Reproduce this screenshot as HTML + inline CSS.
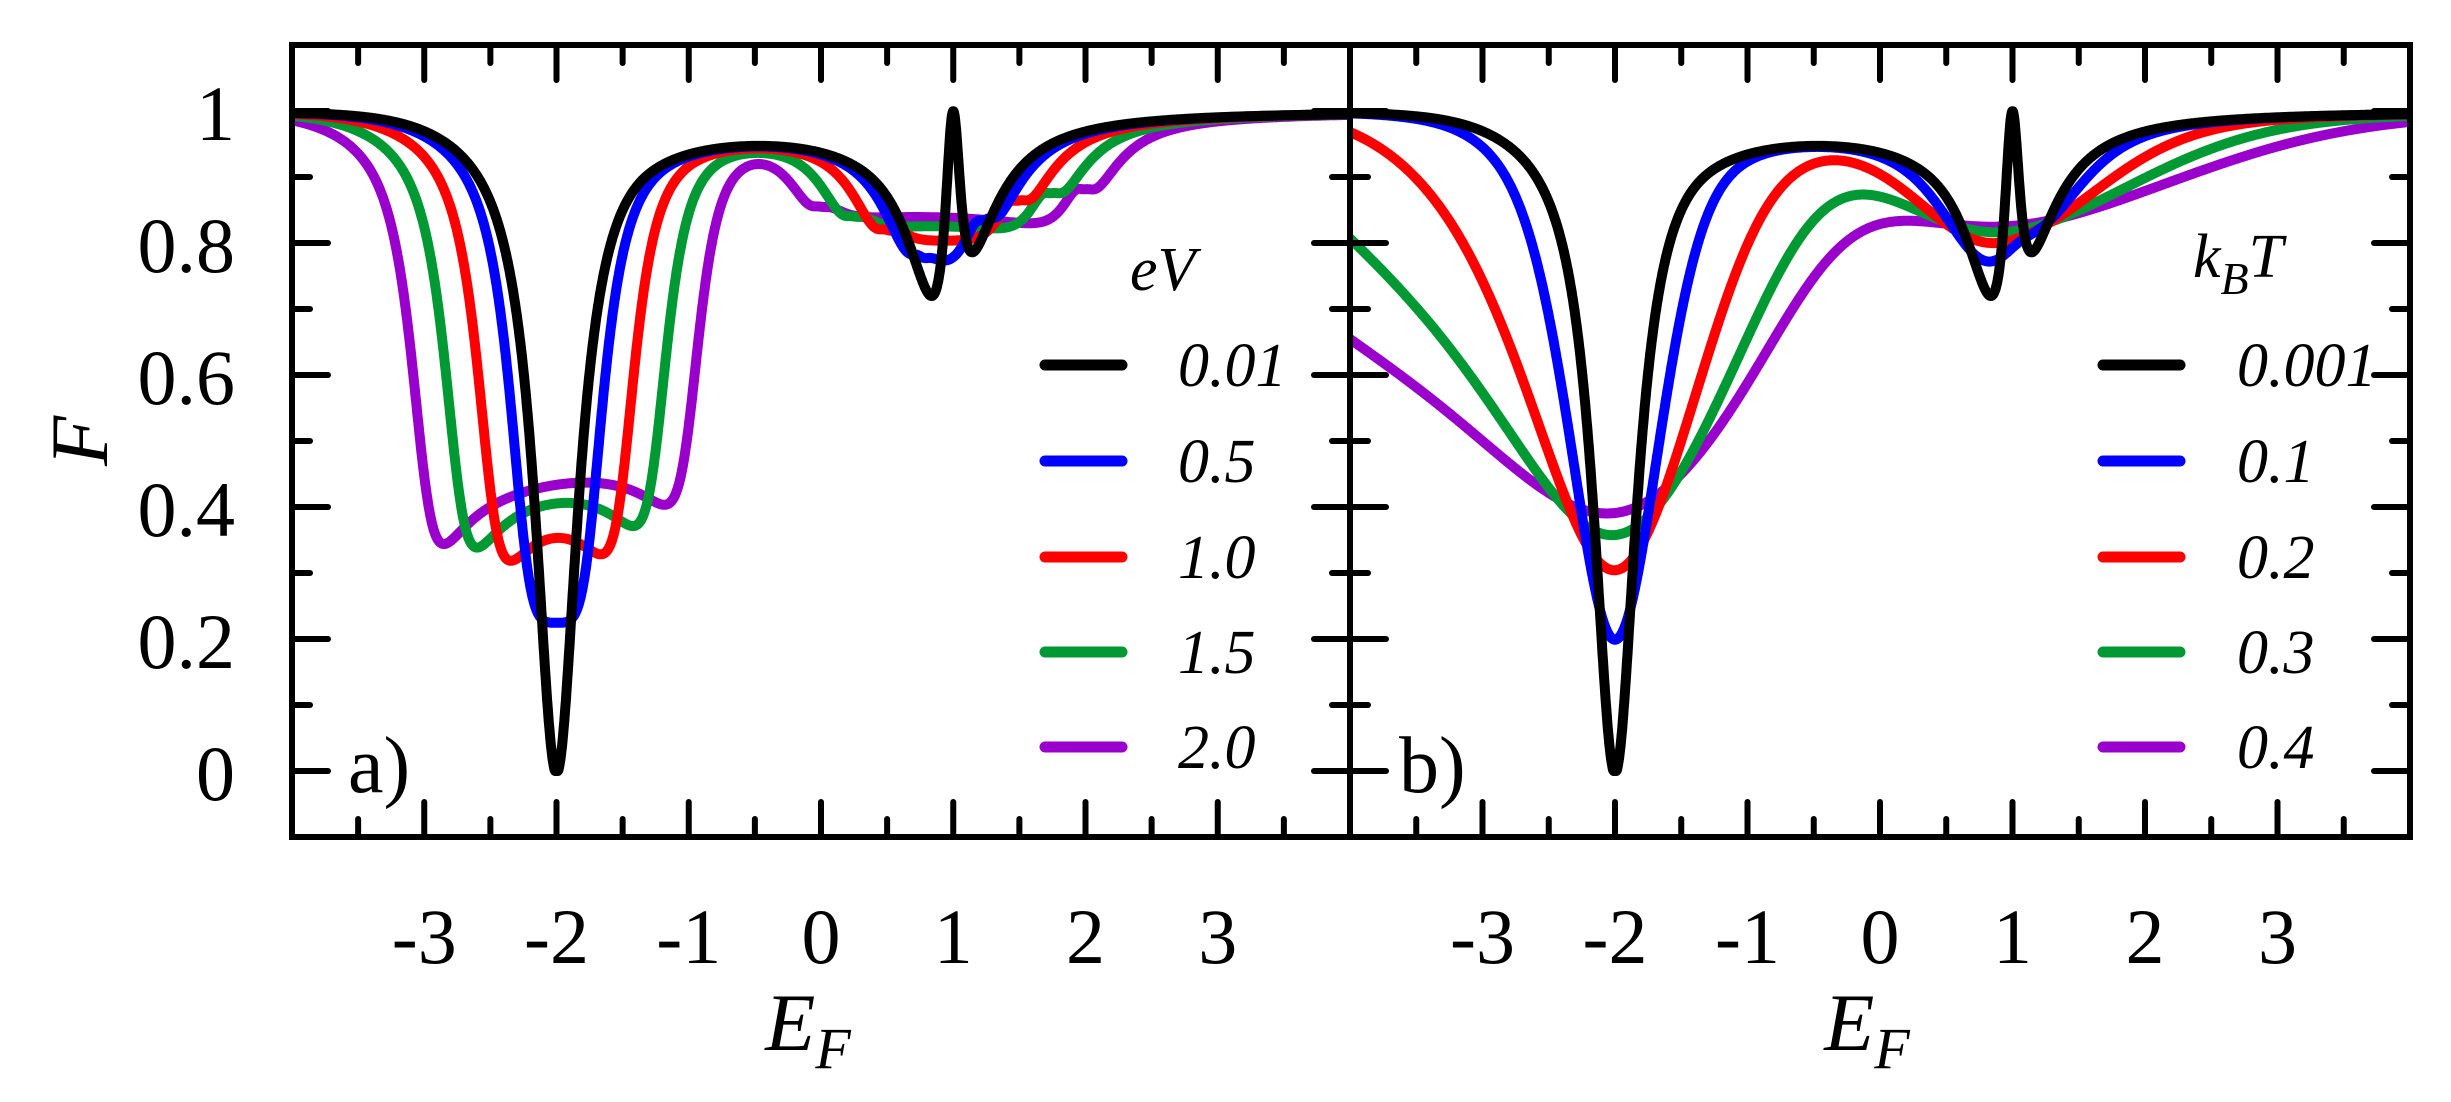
<!DOCTYPE html>
<html><head><meta charset="utf-8"><style>
html,body{margin:0;padding:0;background:#fff;}
svg{display:block;}
text{font-family:"Liberation Serif",serif;fill:#000;}
.tl{font-size:78px;}
.lg{font-size:62px;font-style:italic;}
</style></head><body>
<svg id="s" width="2451" height="1102" viewBox="0 0 2451 1102" xmlns="http://www.w3.org/2000/svg">
<defs>
<clipPath id="ca"><rect x="292" y="45" width="1058" height="792"/></clipPath>
<clipPath id="cb"><rect x="1350" y="45" width="1060" height="792"/></clipPath>
</defs>
<g id="curves"></g>
<g id="axes" stroke="#000" stroke-width="6" fill="none" stroke-linecap="round"></g>
<g class="tl" text-anchor="end">
<text x="235" y="800">0</text>
<text x="235" y="668">0.2</text>
<text x="235" y="536">0.4</text>
<text x="235" y="404">0.6</text>
<text x="235" y="272">0.8</text>
<text x="235" y="140">1</text>
</g>
<g class="tl" text-anchor="middle" id="xl"></g>
<text x="80" y="441" font-size="82" font-style="italic" text-anchor="middle" transform="rotate(-90 80 441)" dy="27">F</text>
<text x="808" y="1050" font-size="82" font-style="italic" text-anchor="middle">E<tspan font-size="58" dy="18">F</tspan></text>
<text x="1867" y="1050" font-size="82" font-style="italic" text-anchor="middle">E<tspan font-size="58" dy="18">F</tspan></text>
<text x="348" y="792" font-size="80">a)</text>
<text x="1399" y="792" font-size="80">b)</text>
<text x="1130" y="290" class="lg">eV</text>
<text x="2193" y="277" class="lg">k<tspan font-size="46" dy="17">B</tspan><tspan dy="-17">T</tspan></text>
<g class="lg">
<text x="1178" y="386">0.01</text>
<text x="1178" y="482">0.5</text>
<text x="1178" y="578">1.0</text>
<text x="1178" y="673">1.5</text>
<text x="1178" y="768">2.0</text>
<text x="2237" y="386">0.001</text>
<text x="2237" y="482">0.1</text>
<text x="2237" y="578">0.2</text>
<text x="2237" y="673">0.3</text>
<text x="2237" y="768">0.4</text>
</g>
<g stroke-width="11" stroke-linecap="round">
<line x1="1045" y1="365" x2="1122" y2="365" stroke="#000"/>
<line x1="1045" y1="461" x2="1122" y2="461" stroke="#0000ff"/>
<line x1="1045" y1="557" x2="1122" y2="557" stroke="#ff0000"/>
<line x1="1045" y1="652" x2="1122" y2="652" stroke="#009933"/>
<line x1="1045" y1="747" x2="1122" y2="747" stroke="#9900cc"/>
<line x1="2103" y1="365" x2="2180" y2="365" stroke="#000"/>
<line x1="2103" y1="461" x2="2180" y2="461" stroke="#0000ff"/>
<line x1="2103" y1="557" x2="2180" y2="557" stroke="#ff0000"/>
<line x1="2103" y1="652" x2="2180" y2="652" stroke="#009933"/>
<line x1="2103" y1="747" x2="2180" y2="747" stroke="#9900cc"/>
</g>
</svg>
<script>
(function(){
var NS="http://www.w3.org/2000/svg";
function el(t,a,p){var e=document.createElementNS(NS,t);for(var k in a)e.setAttribute(k,a[k]);p.appendChild(e);return e;}
var Y=function(F){return 771-660*F;};
var P=[[292,1350],[1350,2410]];
function X(p,e){return P[p][0]+(e+4)/8*(P[p][1]-P[p][0]);}
var ax=document.getElementById('axes');
el('rect',{x:292,y:45,width:2118,height:792,'stroke-linejoin':'miter','stroke-linecap':'butt'},ax);
el('line',{x1:1350,y1:45,x2:1350,y2:837},ax);
var xl=document.getElementById('xl');
for(var p=0;p<2;p++){
 for(var i=-7;i<=7;i++){
  var e=i/2,x=X(p,e),L=(i%2===0)?35:18;
  el('line',{x1:x,y1:45,x2:x,y2:45+L},ax);
  el('line',{x1:x,y1:837,x2:x,y2:837-L},ax);
  if(i%2===0){var t=el('text',{x:x,y:963},xl);t.textContent=String(e);}
 }
}
for(var j=0;j<=10;j++){
 var y=Y(j/10),L=(j%2===0)?36:18;
 el('line',{x1:292,y1:y,x2:292+L,y2:y},ax);
 el('line',{x1:1350-L,y1:y,x2:1350+L,y2:y},ax);
 el('line',{x1:2410,y1:y,x2:2410-L,y2:y},ax);
}
function T(E){
 var d=E+2,g=0.2,Lr=g*g/(d*d+g*g);
 if(d<0)Lr*=1/(1+Math.pow(d/1.3,4));
 var bg=0.02/(1+Math.exp(-(E+1.4)/0.15))/(1+Math.exp((E-0.5)/0.15));
 var dc=E-0.95,T2=0.38*0.09/(dc*dc+0.09);
 var dz=E-1,Z=dz*dz/(dz*dz+0.075*0.075);
 return Math.min(1,(Lr+bg+T2)*Z);
}
var h=0.002,E0=-9,N=Math.round(18/h)+1,Ta=new Float64Array(N),C1=new Float64Array(N+1),C2=new Float64Array(N+1);
for(var k=0;k<N;k++){var tt=T(E0+k*h);Ta[k]=tt;C1[k+1]=C1[k]+tt;C2[k+1]=C2[k]+tt*tt;}
function idx(E){return Math.round((E-E0)/h);}
function Fv(EF,V){
 if(V<0.02){return 1-T(EF);}
 var a=idx(EF-V/2),b=idx(EF+V/2);
 var s1=C1[b]-C1[a],s2=C2[b]-C2[a];return 1-s2/s1;
}
function Ft(EF,kT){
 if(kT<0.005){return 1-T(EF);}
 var a=idx(EF-12*kT),b=idx(EF+12*kT),s1=0,s2=0;
 for(var k=a;k<=b;k++){var x=(E0+k*h-EF)/(2*kT),c=Math.cosh(x),w=1/(c*c);s1+=Ta[k]*w;s2+=Ta[k]*Ta[k]*w;}
 return 1-s2/s1;
}
var cols=["#9900cc","#009933","#ff0000","#0000ff","#000000"];
var Vs=[2.0,1.5,1.0,0.5,0.01],Ks=[0.4,0.3,0.2,0.1,0.001];
var cg=document.getElementById('curves');
var ga=el('g',{'clip-path':'url(#ca)',fill:'none','stroke-width':10,'stroke-linejoin':'round','stroke-linecap':'round'},cg);
var gb=el('g',{'clip-path':'url(#cb)',fill:'none','stroke-width':10,'stroke-linejoin':'round','stroke-linecap':'round'},cg);
for(var c=0;c<5;c++){
 var da=[],db=[];
 for(var EF=-4.05;EF<=4.05;EF+=0.004){
  da.push(X(0,EF).toFixed(1)+','+Y(Fv(EF,Vs[c])).toFixed(1));
  db.push(X(1,EF).toFixed(1)+','+Y(Ft(EF,Ks[c])).toFixed(1));
 }
 el('path',{d:'M'+da.join('L'),stroke:cols[c]},ga);
 el('path',{d:'M'+db.join('L'),stroke:cols[c]},gb);
}
})();
</script>
</body></html>
